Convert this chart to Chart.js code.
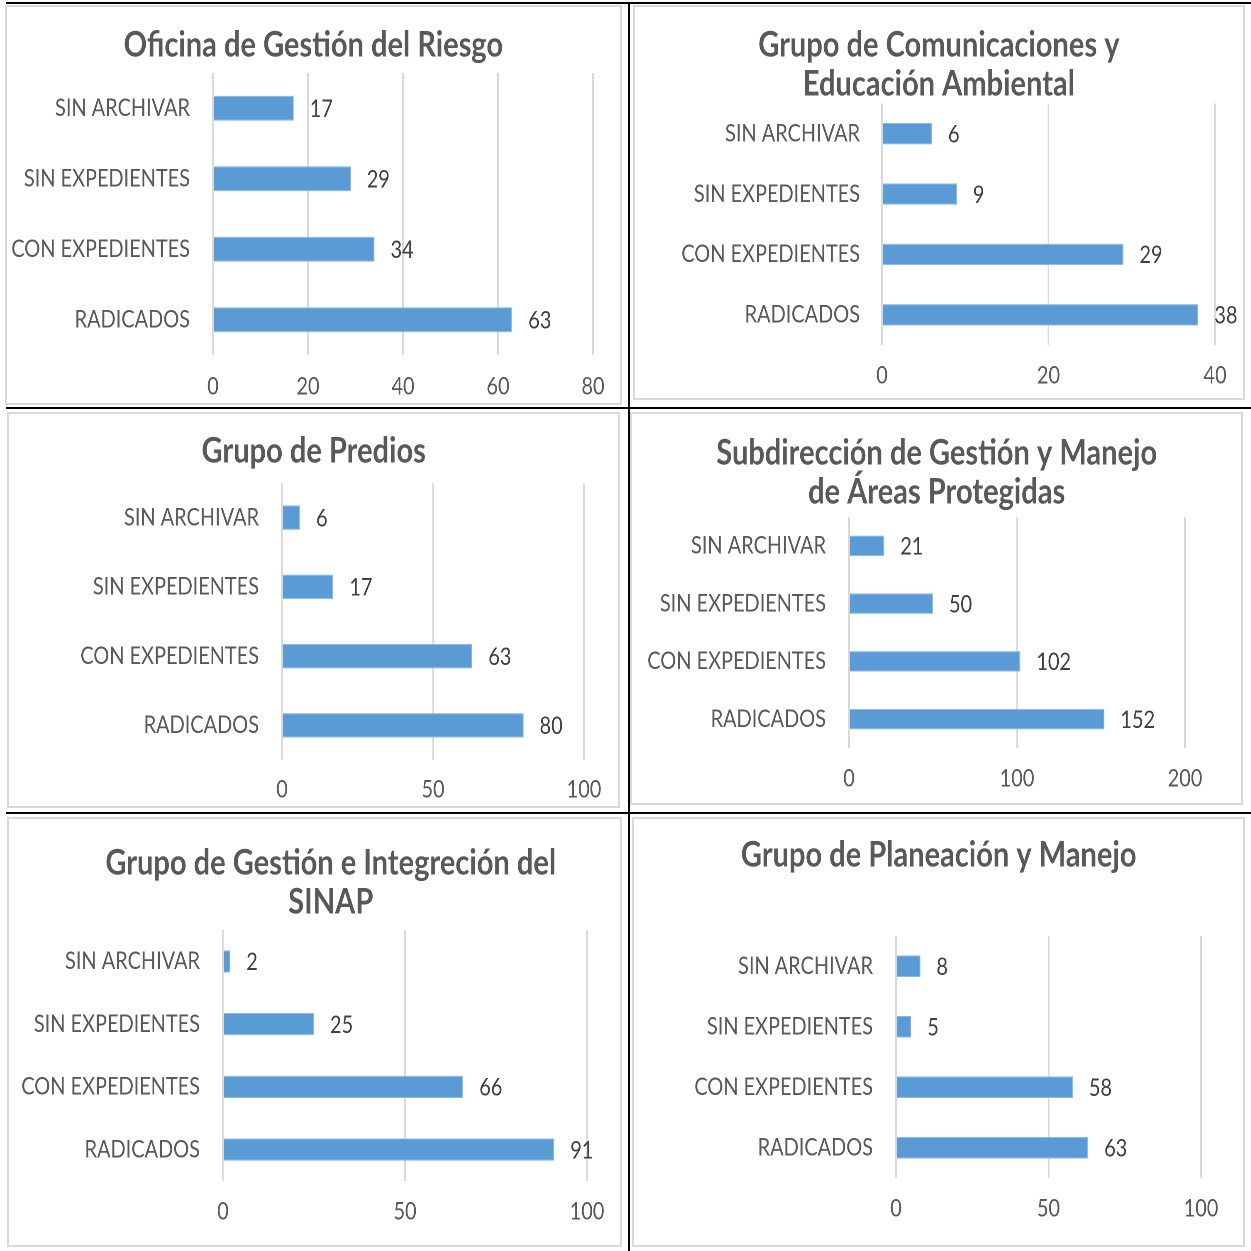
<!DOCTYPE html>
<html>
<head>
<meta charset="utf-8">
<title>Expedientes por dependencia</title>
<script src="https://cdn.jsdelivr.net/npm/chart.js@4.4.1/dist/chart.umd.min.js"></script>
<style>
    body { margin: 0; background: #fff; width: 1251px; height: 1251px; position: relative; overflow: hidden; }
    .rule { position: absolute; background: #000; }
    .box { position: absolute; border: 2px solid #d9d9d9; box-sizing: border-box; }
    canvas { position: absolute; transform-origin: 0 0; }
</style>
</head>
<body>
<div class="rule" style="left:6px;top:2px;width:1245px;height:2px"></div>
<div class="rule" style="left:628px;top:2px;width:2px;height:1249px"></div>
<div class="rule" style="left:6px;top:407px;width:1245px;height:2px"></div>
<div class="rule" style="left:6px;top:812px;width:1245px;height:2px"></div>

<script>
// data
const categories = ['SIN ARCHIVAR', 'SIN EXPEDIENTES', 'CON EXPEDIENTES', 'RADICADOS'];

const riesgoTitle = ['Oficina de Gestión del Riesgo'];
const riesgoValues = [17, 29, 34, 63];
const riesgoTicks = [0, 20, 40, 60, 80];

const comunicacionesTitle = ['Grupo de Comunicaciones y', 'Educación Ambiental'];
const comunicacionesValues = [6, 9, 29, 38];
const comunicacionesTicks = [0, 20, 40];

const prediosTitle = ['Grupo de Predios'];
const prediosValues = [6, 17, 63, 80];
const prediosTicks = [0, 50, 100];

const subdireccionTitle = ['Subdirección de Gestión y Manejo', 'de Áreas Protegidas'];
const subdireccionValues = [21, 50, 102, 152];
const subdireccionTicks = [0, 100, 200];

const sinapTitle = ['Grupo de Gestión e Integreción del', 'SINAP'];
const sinapValues = [2, 25, 66, 91];
const sinapTicks = [0, 50, 100];

const planeacionTitle = ['Grupo de Planeación y Manejo'];
const planeacionValues = [8, 5, 58, 63];
const planeacionTicks = [0, 50, 100];

// the original picture is a bit squeezed sideways, so each canvas is too
const SX = 0.83;
const FONT = 'Lato';
const LABEL_SIZE = 24;
const TITLE_SIZE = 35;
const TITLE_LH = 39;

// value labels next to the bars
const valueLabels = {
    id: 'valueLabels',
    afterDatasetsDraw(chart) {
        const ctx = chart.ctx;
        const meta = chart.getDatasetMeta(0);
        const values = chart.data.datasets[0].data;
        ctx.save();
        ctx.font = `${LABEL_SIZE}px ${FONT}`;
        ctx.fillStyle = '#404040';
        ctx.textAlign = 'left';
        ctx.textBaseline = 'middle';
        meta.data.forEach((bar, i) => {
            ctx.fillText(values[i], bar.x + 16 / SX, bar.y + 1);
        });
        ctx.restore();
    }
};

function makeChart(title, values, ticks, L) {
    const box = document.createElement('div');
    box.className = 'box';
    box.style.left = L.x + 'px';
    box.style.top = L.y + 'px';
    box.style.width = L.w + 'px';
    box.style.height = L.h + 'px';
    document.body.appendChild(box);

    // a title that sits right of the box centre gets a wider (transparent) canvas
    const extra = 2 * (L.titleShift || 0);
    const cw = Math.round((L.w + extra) / SX);
    const ch = L.h;
    const canvas = document.createElement('canvas');
    canvas.width = cw;
    canvas.height = ch;
    canvas.style.left = L.x + 'px';
    canvas.style.top = L.y + 'px';
    canvas.style.transform = `scaleX(${SX})`;
    document.body.appendChild(canvas);

    const padTop = (L.titleY - L.y) - TITLE_LH / 2;
    const padBottom = Math.max(0, (L.t - L.y) - padTop - title.length * TITLE_LH);
    const rightGap = cw - (L.r - L.x) / SX;

    new Chart(canvas.getContext('2d'), {
        type: 'bar',
        data: {
            labels: categories,
            datasets: [{
                data: values,
                backgroundColor: '#5b9bd5',
                borderColor: '#8cb9e3',
                borderWidth: 1,
                categoryPercentage: 1,
                barPercentage: 0.355
            }]
        },
        options: {
            indexAxis: 'y',
            responsive: false,
            animation: false,
            devicePixelRatio: 2,
            layout: { padding: 0 },
            plugins: {
                legend: { display: false },
                tooltip: { enabled: false },
                title: {
                    display: true,
                    text: title,
                    color: '#595959',
                    font: { family: FONT, size: TITLE_SIZE, weight: 'bold', lineHeight: TITLE_LH / TITLE_SIZE },
                    padding: { top: padTop, bottom: padBottom }
                }
            },
            scales: {
                x: {
                    min: ticks[0],
                    max: ticks[ticks.length - 1],
                    ticks: {
                        stepSize: ticks[1] - ticks[0],
                        color: '#595959',
                        font: { family: FONT, size: LABEL_SIZE },
                        padding: (L.tickY - L.b) - LABEL_SIZE * 0.6,
                        maxRotation: 0
                    },
                    grid: { color: '#d9d9d9', lineWidth: 2, drawTicks: false },
                    border: { display: false },
                    afterFit(scale) { scale.height = ch - (L.b - L.y); }
                },
                y: {
                    ticks: {
                        color: '#595959',
                        font: { family: FONT, size: LABEL_SIZE },
                        padding: (L.l - L.labelRight) / SX
                    },
                    grid: { display: false, drawTicks: false },
                    border: { display: false },
                    afterFit(scale) { scale.width = (L.l - L.x) / SX; }
                },
                // empty strip on the right so the title stays centred on the whole box
                gap: {
                    type: 'category',
                    position: 'right',
                    labels: categories,
                    ticks: { display: false },
                    grid: { display: false, drawTicks: false },
                    border: { display: false },
                    afterFit(scale) { scale.width = rightGap; }
                }
            }
        },
        plugins: [valueLabels]
    });
}

makeChart(riesgoTitle, riesgoValues, riesgoTicks,
    { x: 5, y: 5, w: 617, h: 400, l: 213, r: 593, t: 73, b: 355, titleY: 45, tickY: 387, labelRight: 190 });
makeChart(comunicacionesTitle, comunicacionesValues, comunicacionesTicks,
    { x: 633, y: 5, w: 612, h: 395, l: 882, r: 1215, t: 103, b: 345, titleY: 45, tickY: 376, labelRight: 860 });
makeChart(prediosTitle, prediosValues, prediosTicks,
    { x: 7, y: 412, w: 613, h: 396, l: 282, r: 584, t: 483, b: 760, titleY: 451, tickY: 790, labelRight: 259 });
makeChart(subdireccionTitle, subdireccionValues, subdireccionTicks,
    { x: 630, y: 412, w: 613, h: 393, l: 849, r: 1185, t: 517, b: 748, titleY: 453, tickY: 779, labelRight: 826 });
makeChart(sinapTitle, sinapValues, sinapTicks,
    { x: 7, y: 817, w: 615, h: 430, l: 223, r: 587, t: 930, b: 1181, titleY: 863, tickY: 1212, labelRight: 200, titleShift: 16 });
makeChart(planeacionTitle, planeacionValues, planeacionTicks,
    { x: 632, y: 817, w: 613, h: 430, l: 896, r: 1201, t: 936, b: 1178, titleY: 855, tickY: 1209, labelRight: 873 });
</script>
</body>
</html>
